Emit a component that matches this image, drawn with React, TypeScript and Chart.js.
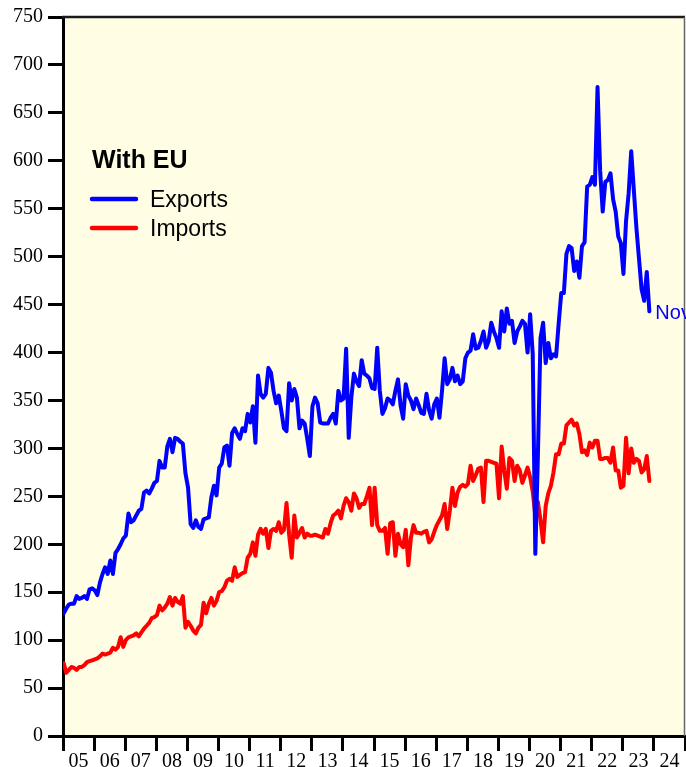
import { useEffect, useRef } from 'react';
import { Chart, registerables } from 'chart.js';

Chart.register(...registerables);

const START_YEAR = 2005;
const END_YEAR = 2025;

const yearTickLabels = ['05', '06', '07', '08', '09', '10', '11', '12', '13', '14', '15', '16', '17', '18', '19', '20', '21', '22', '23', '24'];

const legendTitle = 'With EU';
const seriesNames = ['Exports', 'Imports'];
const lastMonthLabel = 'Nov';

// Monthly values, Jan 2005 .. Nov 2023
const exportsValues = [
  128, 133, 137, 138, 138, 146, 143, 144, 146, 143, 153, 154, // 2005
  152, 147, 160, 169, 176, 169, 183, 169, 191, 195, 200, 206, // 2006
  209, 232, 223, 225, 230, 235, 237, 254, 256, 253, 258, 264, // 2007
  266, 287, 280, 280, 302, 310, 296, 311, 310, 307, 305, 274, // 2008
  259, 221, 217, 225, 218, 216, 226, 227, 228, 249, 261, 251, // 2009
  280, 284, 301, 303, 282, 316, 321, 315, 310, 321, 318, 336, // 2010
  327, 344, 306, 376, 357, 353, 357, 384, 379, 360, 347, 355, // 2011
  339, 321, 318, 368, 350, 362, 353, 321, 329, 326, 310, 292, // 2012
  344, 353, 347, 327, 326, 326, 326, 332, 336, 326, 360, 350, // 2013
  352, 404, 311, 353, 378, 370, 365, 392, 378, 376, 373, 363, // 2014
  362, 405, 360, 336, 342, 352, 350, 346, 360, 372, 345, 331, // 2015
  367, 355, 350, 341, 352, 345, 337, 336, 357, 340, 331, 346, // 2016
  352, 332, 360, 394, 367, 372, 384, 370, 376, 367, 370, 394, // 2017
  400, 402, 419, 404, 405, 412, 422, 405, 412, 431, 422, 415, // 2018
  405, 443, 422, 446, 430, 433, 410, 422, 427, 433, 430, 400, // 2019
  440, 398, 190, 294, 415, 431, 389, 410, 394, 398, 396, 430, // 2020
  462, 462, 503, 511, 509, 485, 495, 478, 511, 515, 573, 575, // 2021
  583, 575, 677, 590, 547, 578, 580, 587, 560, 547, 521, 514, // 2022
  482, 537, 566, 610, 570, 530, 498, 466, 454, 484, 443,      // 2023
];

const importsValues = [
  76, 66, 69, 72, 71, 69, 72, 72, 74, 77, 78, 79, // 2005
  80, 81, 83, 86, 85, 86, 87, 92, 90, 93, 103, 93, // 2006
  100, 103, 104, 105, 107, 104, 108, 112, 115, 118, 123, 124, // 2007
  126, 136, 131, 134, 138, 145, 136, 144, 140, 138, 146, 113, // 2008
  119, 115, 110, 107, 113, 116, 139, 128, 138, 144, 136, 141, // 2009
  150, 151, 155, 162, 164, 162, 176, 166, 168, 170, 171, 186, // 2010
  190, 202, 188, 210, 216, 211, 216, 196, 214, 216, 214, 223, // 2011
  212, 215, 243, 210, 186, 230, 207, 212, 217, 207, 211, 209, // 2012
  209, 210, 209, 208, 207, 216, 211, 222, 230, 232, 235, 227, // 2013
  240, 248, 244, 235, 253, 248, 238, 242, 242, 250, 259, 220, // 2014
  259, 220, 214, 214, 217, 190, 222, 223, 188, 211, 200, 197, // 2015
  215, 178, 207, 220, 212, 212, 211, 213, 214, 202, 205, 213, // 2016
  220, 225, 230, 242, 216, 235, 259, 240, 254, 260, 262, 260, // 2017
  263, 282, 266, 272, 279, 280, 244, 287, 287, 286, 285, 284, // 2018
  248, 302, 277, 258, 290, 287, 266, 282, 277, 264, 272, 280, // 2019
  270, 255, 230, 244, 225, 202, 240, 253, 261, 275, 294, 294, // 2020
  305, 305, 324, 327, 330, 324, 326, 315, 296, 298, 293, 306, // 2021
  301, 308, 308, 289, 289, 290, 290, 285, 301, 277, 277, 259, // 2022
  261, 311, 274, 300, 285, 289, 287, 275, 278, 292, 266,      // 2023
];

const EXPORT_COLOR = '#0000ff';
const IMPORT_COLOR = '#ff0000';
const PLOT_BG = '#fffde4';

const toPoints = (arr: number[]) => arr.map((v, i) => ({ x: START_YEAR + i / 12 + 1 / 48, y: v }));

const decorPlugin = {
  id: 'decor',
  beforeDraw(chart: any) {
    const { ctx, chartArea } = chart;
    ctx.save();
    ctx.fillStyle = PLOT_BG;
    ctx.fillRect(chartArea.left, chartArea.top, chartArea.right - chartArea.left, chartArea.bottom - chartArea.top);
    ctx.restore();
  },
  afterDraw(chart: any) {
    const { ctx, chartArea, scales } = chart;
    ctx.save();
    // top frame
    ctx.strokeStyle = '#1a1a1a';
    ctx.lineWidth = 2.5;
    ctx.beginPath();
    ctx.moveTo(chartArea.left - 1, chartArea.top);
    ctx.lineTo(chartArea.right, chartArea.top);
    ctx.stroke();
    // right frame
    ctx.strokeStyle = '#666';
    ctx.lineWidth = 1.5;
    ctx.beginPath();
    ctx.moveTo(chartArea.right - 0.5, chartArea.top);
    ctx.lineTo(chartArea.right - 0.5, chartArea.bottom);
    ctx.stroke();

    // legend
    ctx.fillStyle = '#000';
    ctx.textBaseline = 'alphabetic';
    ctx.textAlign = 'left';
    ctx.font = 'bold 25px "Liberation Sans", Arial, sans-serif';
    ctx.fillText(legendTitle, 92, 168);
    const rows = [
      { name: seriesNames[0], color: EXPORT_COLOR, y: 199 },
      { name: seriesNames[1], color: IMPORT_COLOR, y: 228 },
    ];
    ctx.font = '23px "Liberation Sans", Arial, sans-serif';
    rows.forEach((r) => {
      ctx.strokeStyle = r.color;
      ctx.lineWidth = 4.5;
      ctx.lineCap = 'round';
      ctx.beginPath();
      ctx.moveTo(92, r.y);
      ctx.lineTo(136, r.y);
      ctx.stroke();
      ctx.fillStyle = '#000';
      ctx.fillText(r.name, 150, r.y + 8);
    });

    // last month label
    const lastIdx = exportsValues.length - 1;
    const lx = scales.x.getPixelForValue(START_YEAR + lastIdx / 12 + 1 / 48);
    const ly = scales.y.getPixelForValue(exportsValues[lastIdx]);
    ctx.fillStyle = EXPORT_COLOR;
    ctx.font = '20px "Liberation Sans", Arial, sans-serif';
    ctx.fillText(lastMonthLabel, lx + 6, ly + 8);
    ctx.restore();
  },
};

export default function App() {
  const ref = useRef<HTMLCanvasElement>(null);
  useEffect(() => {
    document.body.style.margin = '0';
    if (!ref.current) return;
    const chart = new Chart(ref.current, {
      type: 'line',
      data: {
        datasets: [
          {
            label: seriesNames[0],
            data: toPoints(exportsValues),
            borderColor: EXPORT_COLOR,
            borderWidth: 4,
            pointRadius: 0,
            tension: 0,
            borderJoinStyle: 'round',
            borderCapStyle: 'round',
            fill: false,
          },
          {
            label: seriesNames[1],
            data: toPoints(importsValues),
            borderColor: IMPORT_COLOR,
            borderWidth: 4,
            pointRadius: 0,
            tension: 0,
            borderJoinStyle: 'round',
            borderCapStyle: 'round',
            fill: false,
          },
        ],
      },
      options: {
        responsive: false,
        animation: false,
        layout: { padding: { top: 15, right: 1, left: 0, bottom: 0 } },
        plugins: { legend: { display: false }, tooltip: { enabled: false } },
        scales: {
          x: {
            type: 'linear',
            min: START_YEAR,
            max: END_YEAR,
            afterFit: (s: any) => {
              s.height = 31;
            },
            ticks: {
              stepSize: 1,
              autoSkip: false,
              maxRotation: 0,
              labelOffset: 15.6,
              padding: -1,
              color: '#000',
              font: { family: '"Liberation Serif", "Times New Roman", serif', size: 20 },
              callback: (v: any) => yearTickLabels[Math.round(Number(v)) - START_YEAR] ?? '',
            },
            grid: {
              drawOnChartArea: false,
              drawTicks: true,
              tickLength: 15,
              tickWidth: 3,
              tickColor: '#000',
            },
            border: { display: true, color: '#000', width: 3 },
          },
          y: {
            min: 0,
            max: 750,
            afterFit: (s: any) => {
              s.width = 63;
            },
            ticks: {
              stepSize: 50,
              padding: 5,
              color: '#000',
              font: { family: '"Liberation Serif", "Times New Roman", serif', size: 20 },
            },
            grid: {
              drawOnChartArea: false,
              drawTicks: true,
              tickLength: 15,
              tickWidth: 3,
              tickColor: '#000',
            },
            border: { display: true, color: '#000', width: 3 },
          },
        },
      },
      plugins: [decorPlugin],
    } as any);
    return () => chart.destroy();
  }, []);
  return <canvas ref={ref} width={686} height={767} style={{ display: 'block' }} />;
}
